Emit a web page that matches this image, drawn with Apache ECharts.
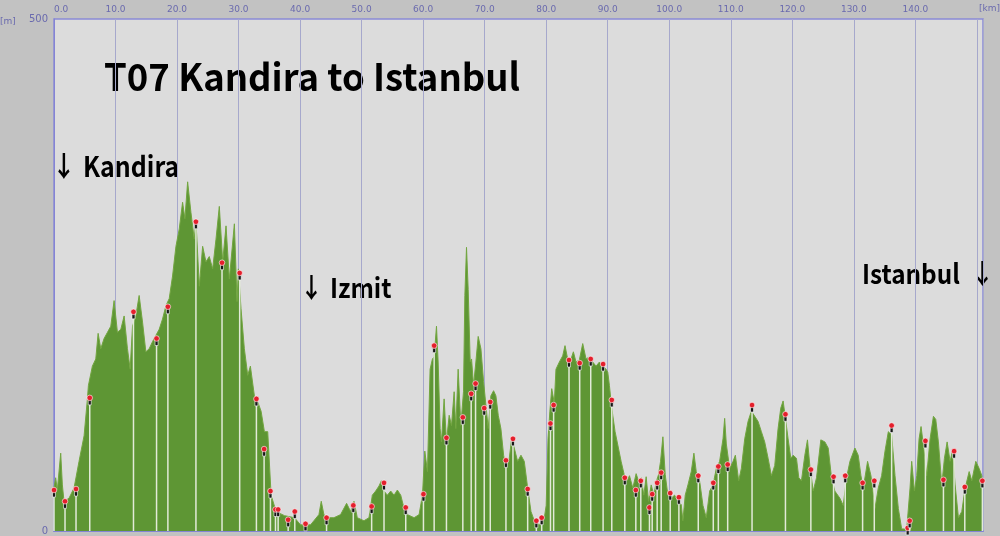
<!DOCTYPE html>
<html>
<head>
<meta charset="utf-8">
<script src="https://cdn.jsdelivr.net/npm/echarts@6/dist/echarts.min.js"></script>
<style>
html,body{margin:0;padding:0;background:#c2c2c2;}
#chart{width:1000px;height:536px;}
</style>
</head>
<body>
<div id="chart"></div>
<script>
// Elevation profile [km, m]
const profileA = [[0,42],[0.27,52],[0.54,40],[1.09,76],[1.36,45],[1.63,29],[2.44,32],[3.26,42],[4.07,68],[4.89,93],[5.43,129],[5.59,142],[6.24,161],[6.79,168],[7.17,193],[7.60,178],[8.14,188],[8.69,194],[9.23,200],[9.77,225],[10.31,194],[10.86,197],[11.40,210],[11.94,178],[12.38,158],[12.76,200],[13.30,210],[13.84,230],[14.39,204],[14.93,175],[15.47,178],[16.02,185],[16.56,191],[17.10,197],[17.64,207],[18.19,220],[18.73,227],[19.27,249],[19.82,278],[20.36,295],[20.90,321],[21.28,305],[21.72,341],[22.26,311],[22.80,285],[23.07,303],[23.62,239],[24.16,278],[24.70,263],[25.24,268],[25.79,256],[26.33,285],[26.87,317],[27.42,263],[27.96,298],[28.50,246],[29.32,300],[29.75,224],[29.97,256],[30.40,217],[30.94,178],[31.49,152],[31.92,161],[32.57,132],[33.12,126],[33.66,117],[34.20,97],[34.74,97],[35.29,35],[36.10,19],[37.46,15],[39.09,13]];
const profileB = [[40.07,6],[41.70,6],[42.24,10],[43.06,16],[43.44,29],[43.87,16],[44.41,13],[45.50,13],[46.58,16],[47.56,27],[48.21,19],[48.76,29],[49.30,13],[50.38,10],[51.20,13],[51.74,35],[52.28,39],[52.83,44],[53.21,49],[53.64,39],[54.18,35],[54.73,39],[55.27,35],[55.81,40],[56.36,35],[56.90,22],[57.44,16],[58.53,13],[59.34,16],[59.89,35],[60.27,78],[60.70,58],[61.13,158],[61.51,168],[61.79,170],[62.17,200],[62.44,165],[62.76,100],[62.98,87],[63.41,129],[63.79,87],[64.23,113],[64.61,103],[65.04,136],[65.31,100],[65.69,158],[66.13,103],[66.56,136],[66.78,230],[67.05,277],[67.32,236],[67.65,165],[67.87,168],[68.19,142],[68.57,165],[68.95,190],[69.39,178],[69.82,146],[70.20,123],[70.58,100],[71.01,132],[71.45,137],[71.83,132],[72.21,113],[72.64,100],[73.08,74],[73.46,61],[74.00,71],[74.38,90],[74.81,81],[75.36,68],[75.90,74],[76.44,68],[76.99,42],[77.53,19],[78.07,10],[78.89,6],[79.70,13]];
const profileC = [[80.00,25],[80.30,90],[80.60,117],[80.90,139],[81.32,125],[81.59,158],[82.14,165],[82.68,171],[83.06,181],[83.49,168],[84.04,168],[84.42,175],[84.85,165],[85.39,167],[85.94,183],[86.48,168],[87.02,170],[87.56,165],[88.11,161],[88.65,165],[89.19,161],[89.74,158],[90.01,155],[90.28,142],[90.55,126],[90.82,113],[91.20,97],[91.64,84],[92.18,68],[92.72,54],[93.16,49],[93.54,54],[94.08,42],[94.62,56],[95.00,49],[95.44,52],[95.87,35],[96.25,53],[96.63,29],[97.07,45],[97.50,35],[97.88,48],[98.26,55],[98.59,68],[98.97,92],[99.35,55],[99.78,35],[100.32,32],[100.87,35],[101.41,29],[101.95,26],[102.22,10],[102.60,35],[103.04,45],[103.58,58],[104.01,76],[104.39,58],[104.94,49],[105.48,25],[106.02,13],[106.57,39],[107.11,45],[107.65,61],[108.19,68],[108.74,90],[109.01,110],[109.28,85],[109.82,61],[110.37,68],[110.75,74],[111.29,49],[111.72,61],[112.27,90],[112.81,107],[113.35,117],[113.90,112],[114.44,107],[114.98,97],[115.52,87],[116.07,71],[116.61,54]];
const profileD = [[117.15,64],[117.69,100],[118.13,120],[118.51,127],[118.89,110],[119.32,90],[119.76,71],[120.14,74],[120.68,71],[121.06,52],[121.49,49],[122.04,74],[122.47,89],[122.85,64],[123.40,39],[123.94,52],[124.64,89],[125.30,87],[125.84,81],[126.38,52],[126.92,39],[127.74,32],[128.28,25],[128.82,52],[129.37,68],[130.18,81],[130.72,74],[131.16,54],[131.54,42],[132.24,68],[132.79,54],[133.44,22],[133.98,42],[134.52,54],[135.07,78],[135.61,97],[136.15,94],[136.70,54],[137.24,22],[137.78,2],[138.60,2],[139.14,42],[139.41,68],[139.85,39],[140.23,54],[140.61,90],[140.93,102],[141.31,84],[141.85,54],[142.40,90],[142.94,112],[143.32,109],[143.75,87],[144.30,45],[144.73,71],[145.17,87],[145.65,68],[146.03,78],[146.47,45],[147.01,13],[147.55,19],[148.10,42],[148.75,58],[149.18,49],[149.83,68],[150.38,61],[150.81,54],[151.0,42]];

// Waypoint pins
const pinKm = [0.0,1.79,3.58,5.81,12.92,16.67,18.51,23.07,27.31,30.18,32.9,34.15,35.18,36.0,36.43,38.06,39.14,40.88,44.3,48.65,51.63,53.64,57.17,60.05,61.79,63.79,66.45,67.81,68.52,69.93,70.91,73.46,74.6,76.99,78.4,79.27,80.7,81.21,83.71,85.45,87.24,89.25,90.66,92.78,94.57,95.38,96.79,97.23,98.04,98.69,100.16,101.57,104.72,107.16,107.98,109.5,113.46,118.89,123.02,126.71,128.61,131.43,133.33,136.15,138.76,139.08,141.64,144.57,146.3,148.04,150.9];
const pinM  = [40,29,41,130,214,188,219,302,262,252,129,80,39,21,21,11,19,7,13,25,24,47,23,36,181,91,111,134,144,120,126,69,90,41,10,13,105,123,167,164,168,163,128,52,40,49,23,36,47,57,37,33,54,47,63,65,123,114,60,53,54,47,49,103,3,10,88,50,78,43,49];

// Axes
const xMin = 0, xMax = 151, xStep = 10, xLastLabel = 140;
const yMin = 0, yMax = 500;

// Texts
const titleText = 'T07 Kandira to Istanbul';
const places = ['Kandira', 'Izmit', 'Istanbul'];

const profile = profileA.concat(profileB, profileC, profileD);
const pins = pinKm.map((k, i) => [k, pinM[i]]);

const chart = echarts.init(document.getElementById('chart'), null, {renderer: 'canvas'});
const labelColor = '#6a6aae';
const textFont = '"Noto Sans CJK JP", "Noto Sans", sans-serif';

function label(txt, x, y, size, sx) {
  return {type: 'text', x: x, y: y, scaleX: sx, originX: 0, originY: 0,
    style: {text: txt, fill: '#000', font: 'bold ' + size + 'px ' + textFont, textVerticalAlign: 'middle'}};
}

chart.setOption({
  backgroundColor: '#c2c2c2',
  animation: false,
  grid: {left: 54, right: 17, top: 19, bottom: 3, show: true, backgroundColor: '#dcdcdc', borderColor: '#8a8ad6', borderWidth: 1.5},
  xAxis: {
    type: 'value', position: 'top', min: xMin, max: xMax, interval: xStep,
    axisLine: {show: true, lineStyle: {color: '#8484d4', width: 2}},
    axisTick: {show: false},
    axisLabel: {
      color: labelColor, fontSize: 9, fontFamily: 'DejaVu Sans', margin: 5,
      formatter: v => (v % 10 === 0 && v <= xLastLabel ? v.toFixed(1) : ''),
      alignMinLabel: 'left'
    },
    splitLine: {show: true, lineStyle: {color: '#a6a8cc', width: 1}}
  },
  yAxis: {
    type: 'value', min: yMin, max: yMax, interval: 500,
    axisLine: {show: true, lineStyle: {color: '#8484d4', width: 1}},
    axisTick: {show: false},
    axisLabel: {color: labelColor, fontSize: 10, fontFamily: 'DejaVu Sans', margin: 6},
    splitLine: {show: false}
  },
  graphic: [
    {type: 'text', left: 0, top: 17, style: {text: '[m]', fill: labelColor, font: '9px "DejaVu Sans"'}},
    {type: 'text', left: 979, top: 4, style: {text: '[km]', fill: labelColor, font: '9px "DejaVu Sans"'}},
    label(titleText, 104, 77, 38, 0.96),
    label('↓', 52, 166, 28, 0.85),
    label(places[0], 83, 166, 28, 0.89),
    label('↓', 300, 288, 27, 0.85),
    label(places[1], 330, 288, 27, 0.9),
    label(places[2], 862, 274, 27, 0.9),
    label('↓', 971, 274, 27, 0.85)
  ],
  series: [
    {
      type: 'line', data: profile, symbol: 'none', smooth: false,
      lineStyle: {width: 1, color: '#72a640'},
      areaStyle: {opacity: 1, color: new echarts.graphic.LinearGradient(0, 0, 0, 1, [
        {offset: 0, color: '#86b850'}, {offset: 1, color: '#5e9634'}
      ], true)},
      z: 2
    },
    {
      type: 'custom', data: pins, z: 3,
      renderItem: function (params, api) {
        const p = api.coord([api.value(0), api.value(1)]);
        const b = api.coord([api.value(0), 0]);
        return {type: 'group', children: [
          {type: 'line', shape: {x1: p[0], y1: p[1] + 6, x2: p[0], y2: b[1]}, style: {stroke: '#e2ead8', lineWidth: 1.5}},
          {type: 'rect', shape: {x: p[0] - 1.5, y: p[1] + 1, width: 3, height: 6}, style: {fill: '#151515', stroke: '#ffffff', lineWidth: 0.6}},
          {type: 'circle', shape: {cx: p[0], cy: p[1], r: 2.8}, style: {fill: '#e41f2c', stroke: '#ffffff', lineWidth: 0.6}}
        ]};
      }
    }
  ]
});
</script>
</body>
</html>
